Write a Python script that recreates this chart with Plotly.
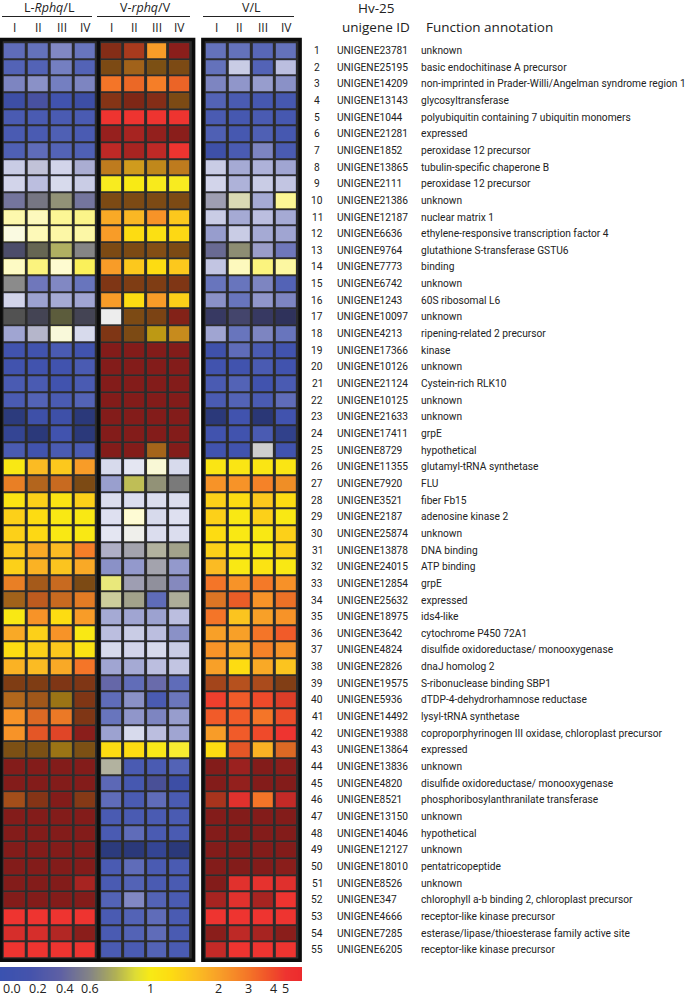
import numpy as np
import plotly.graph_objects as go

W, H = 685, 996

# ---------------- data ----------------
group_titles = ["L-<i>Rphq</i>/L", "V-<i>rphq</i>/V", "V/L"]
replicates = ["I", "II", "III", "IV"]

unigene_ids = [
    "UNIGENE23781", "UNIGENE25195", "UNIGENE14209", "UNIGENE13143", "UNIGENE1044",
    "UNIGENE21281", "UNIGENE1852", "UNIGENE13865", "UNIGENE2111", "UNIGENE21386",
    "UNIGENE12187", "UNIGENE6636", "UNIGENE9764", "UNIGENE7773", "UNIGENE6742",
    "UNIGENE1243", "UNIGENE10097", "UNIGENE4213", "UNIGENE17366", "UNIGENE10126",
    "UNIGENE21124", "UNIGENE10125", "UNIGENE21633", "UNIGENE17411", "UNIGENE8729",
    "UNIGENE11355", "UNIGENE7920", "UNIGENE3521", "UNIGENE2187", "UNIGENE25874",
    "UNIGENE13878", "UNIGENE24015", "UNIGENE12854", "UNIGENE25632", "UNIGENE18975",
    "UNIGENE3642", "UNIGENE4824", "UNIGENE2826", "UNIGENE19575", "UNIGENE5936",
    "UNIGENE14492", "UNIGENE19388", "UNIGENE13864", "UNIGENE13836", "UNIGENE4820",
    "UNIGENE8521", "UNIGENE13150", "UNIGENE14046", "UNIGENE12127", "UNIGENE18010",
    "UNIGENE8526", "UNIGENE347", "UNIGENE4666", "UNIGENE7285", "UNIGENE6205",
]

function_annotations = [
    "unknown", "basic endochitinase A precursor",
    "non-imprinted in Prader-Willi/Angelman syndrome region 1", "glycosyltransferase",
    "polyubiquitin containing 7 ubiquitin monomers", "expressed", "peroxidase 12 precursor",
    "tubulin-specific chaperone B", "peroxidase 12 precursor", "unknown", "nuclear matrix 1",
    "ethylene-responsive transcription factor 4", "glutathione S-transferase GSTU6", "binding",
    "unknown", "60S ribosomal L6", "unknown", "ripening-related 2 precursor", "kinase",
    "unknown", "Cystein-rich RLK10", "unknown", "unknown", "grpE", "hypothetical",
    "glutamyl-tRNA synthetase", "FLU", "fiber Fb15", "adenosine kinase 2", "unknown",
    "DNA binding", "ATP binding", "grpE", "expressed", "ids4-like", "cytochrome P450 72A1",
    "disulfide oxidoreductase/ monooxygenase", "dnaJ homolog 2", "S-ribonuclease binding SBP1",
    "dTDP-4-dehydrorhamnose reductase", "lysyl-tRNA synthetase",
    "coproporphyrinogen III oxidase, chloroplast precursor", "expressed", "unknown",
    "disulfide oxidoreductase/ monooxygenase", "phosphoribosylanthranilate transferase",
    "unknown", "hypothetical", "unknown", "pentatricopeptide", "unknown",
    "chlorophyll a-b binding 2, chloroplast precursor", "receptor-like kinase precursor",
    "esterase/lipase/thioesterase family active site", "receptor-like kinase precursor",
]

# expression ratio per cell (colour hue)
ratio_L = [
    [0.1, 0.1, 0.2, 0.1], [0.05, 0.05, 0.15, 0.05], [0.2, 0.2, 0.15, 0.2], [0.05, 0.2, 0.05, 0.05],
    [0.05, 0.05, 0.05, 0.05], [0.05, 0.05, 0.05, 0.05], [0.05, 0.1, 0.05, 0.05], [0.2, 0.4, 0.2, 0.3],
    [0.2, 0.2, 0.2, 0.2], [0.45, 0.55, 0.65, 0.45], [1, 1, 1, 1], [0.9, 1, 1, 1],
    [0.45, 0.65, 0.75, 0.6], [1, 1, 1, 1], [0.6, 0.2, 0.2, 0.1], [0.2, 0.2, 0.2, 0.2],
    [0.6, 0.5, 0.7, 0.5], [0.2, 0.45, 0.9, 0.2], [0.05, 0.05, 0.05, 0.05], [0.05, 0.05, 0.05, 0.05],
    [0.05, 0.05, 0.05, 0.05], [0.05, 0.05, 0.05, 0.05], [0, 0.05, 0.05, 0], [0, 0, 0.05, 0],
    [0.05, 0.05, 0.05, 0.05], [1.05, 1.7, 1.55, 2.1], [2.6, 2.5, 2.7, 2.3], [1.15, 1.45, 1.15, 1.45],
    [1.45, 1.3, 1.05, 1.05], [1.45, 1.35, 1.05, 1.05], [1.55, 1.9, 1.7, 2.8], [1.45, 1.8, 1.6, 1.9],
    [2.6, 2.6, 2.7, 2.3], [2.2, 3.0, 2.7, 2.6], [1.05, 2.3, 1.3, 2.1], [1.9, 1.45, 2.3, 1.05],
    [1.3, 1.45, 1.55, 1.15], [1.8, 1.7, 1.9, 3.0], [3.0, 3.0, 3.3, 3.3], [2.4, 2.6, 1.7, 3.3],
    [2.3, 3.0, 2.8, 3.3], [2.3, 3.6, 4.0, 5.0], [2.0, 2.0, 1.7, 2.0], [5, 5, 5, 5],
    [5, 5, 5, 5], [3.0, 3.5, 5, 3.3], [5, 5, 5, 5], [5, 5, 5, 5],
    [5, 5, 5, 5], [5, 5, 5, 5], [5, 5, 5, 5], [5, 5, 5, 5],
    [5, 5, 5, 5], [5, 5, 5, 5], [5, 5, 5, 5],
]
ratio_V = [
    [3.8, 3.8, 2.1, 5], [2.3, 2.2, 2.0, 2.3], [3.0, 3.2, 2.8, 3.3], [3.5, 4.0, 3.8, 2.3],
    [5, 5, 5, 5], [5, 5, 5, 5], [5, 5, 5, 5], [2.0, 1.7, 1.8, 2.0],
    [1.0, 1.0, 1.0, 1.0], [2.3, 2.3, 2.3, 2.3], [1.9, 1.75, 2.3, 1.55], [2.1, 1.3, 1.2, 1.35],
    [2.3, 2.3, 2.3, 2.3], [2.1, 1.55, 1.3, 1.55], [3.3, 3.0, 3.0, 3.3], [2.1, 1.3, 2.1, 1.45],
    [0.6, 2.3, 2.6, 4.5], [3.3, 2.3, 1.5, 1.85], [5, 5, 5, 5], [5, 5, 5, 5],
    [5, 5, 5, 5], [5, 5, 5, 5], [5, 5, 5, 5], [5, 5, 5, 5],
    [5, 5, 2.2, 5], [0.2, 0.2, 0.9, 0.2], [0.2, 0.8, 0.65, 0.6], [0.2, 0.2, 0.2, 0.2],
    [0.2, 1.0, 0.2, 0.2], [0.2, 0.65, 0.2, 0.2], [0.45, 0.55, 0.65, 0.65], [0.2, 0.2, 0.55, 0.2],
    [0.9, 0.5, 0.55, 0.3], [0.75, 0.65, 0.1, 0.65], [0.2, 0.2, 0.2, 0.2], [0.2, 0.2, 0.2, 0.2],
    [0.2, 0.2, 0.2, 0.2], [0.2, 0.2, 0.2, 0.2], [0.35, 0.15, 0.35, 0.1], [0.1, 0.2, 0.05, 0.15],
    [0.1, 0.2, 0.2, 0.2], [0.2, 0.2, 0.2, 0.2], [1.3, 1.3, 1.05, 1.0], [0.65, 0.05, 0.05, 0.05],
    [0.15, 0.05, 0.25, 0.05], [0.1, 0.05, 0.1, 0.05], [0.05, 0.05, 0.05, 0.05], [0.05, 0.1, 0.05, 0.05],
    [0, 0, 0, 0], [0.05, 0.1, 0.05, 0.05], [0.05, 0.05, 0.05, 0.05], [0.05, 0.2, 0.05, 0.05],
    [0.05, 0.05, 0.1, 0.05], [0.05, 0.05, 0.1, 0.05], [0.05, 0.05, 0.05, 0.05],
]
ratio_VL = [
    [0.1, 0.1, 0.05, 0.1], [0.1, 0.2, 0.05, 0.2], [0.2, 0.2, 0.2, 0.2], [0.05, 0.05, 0.05, 0.05],
    [0.05, 0.05, 0.05, 0.05], [0.05, 0.05, 0.05, 0.05], [0.05, 0.05, 0.2, 0.05], [0.2, 0.2, 0.2, 0.2],
    [0.2, 0.2, 0.2, 0.2], [0.5, 0.75, 0.2, 1.0], [0.2, 0.2, 0.2, 0.2], [0.2, 0.2, 0.2, 0.2],
    [0.45, 0.65, 0.3, 0.2], [0.2, 1, 1, 1], [0.1, 0.1, 0.2, 0.05], [0.2, 0.1, 0.2, 0.2],
    [0.35, 0.4, 0.35, 0.3], [0.2, 0.1, 0.2, 0.1], [0.05, 0.1, 0.05, 0.05], [0.05, 0.05, 0.05, 0.05],
    [0.05, 0.05, 0.05, 0.05], [0.05, 0.05, 0.05, 0.1], [0, 0.05, 0, 0.05], [0.05, 0.05, 0.05, 0],
    [0.05, 0.05, 0.6, 0.05], [1.1, 1.1, 1.1, 1.1], [2.3, 2.3, 2.7, 2.3], [1.45, 1.3, 1.55, 1.3],
    [1.45, 1.05, 1.45, 1.05], [1.3, 1.05, 1.05, 1.45], [1.45, 1.15, 1.05, 1.45], [1.7, 1.05, 1.15, 1.05],
    [3.0, 2.3, 2.9, 2.35], [2.7, 3.5, 2.3, 3.0], [3.0, 1.6, 2.0, 2.3], [2.0, 2.0, 3.0, 3.6],
    [2.3, 1.9, 2.7, 2.3], [2.0, 1.3, 1.9, 1.6], [3.3, 3.2, 3.2, 3.0], [4.5, 3.6, 4.0, 4.3],
    [3.6, 3.6, 3.0, 3.9], [2.1, 3.6, 4.0, 5.0], [1.3, 3.6, 1.8, 3.0], [5, 5, 5, 5],
    [5, 5, 5, 5], [4.0, 5, 3.0, 5], [5, 5, 5, 5], [5, 5, 5, 5],
    [5, 5, 5, 5], [5, 5, 5, 5], [5, 5, 5, 5], [5, 5, 5, 5],
    [5, 5, 5, 5], [5, 5, 5, 5], [5, 5, 5, 5],
]

# brightness modifier per cell (-1 darker ... +1 lighter)
shade_L = [
    [0.15, 0.18, 0.3, 0.2], [0.1, 0.1, 0.25, 0.1], [0.28, 0.35, 0.25, 0.28], [-0.05, -0.05, 0, -0.05],
    [0.05, 0.05, 0.05, 0.05], [0.05, 0.05, 0.08, 0.05], [0.08, 0.15, 0.1, 0.08], [0.7, 0.6, 0.75, 0.5],
    [0.75, 0.62, 0.78, 0.7], [0.05, -0.05, 0, 0.05], [0.65, 0.72, 0.55, 0.5], [0.85, 0.7, 0.62, 0.62],
    [-0.3, -0.3, 0.05, 0], [0.75, 0.45, 0.8, 0.3], [0.05, 0.2, 0.3, 0.2], [0.75, 0.45, 0.5, 0.47],
    [-0.38, -0.42, -0.42, -0.42], [0.47, 0.5, 0.82, 0.78], [0, 0, 0.05, 0], [0, 0, 0, 0.05],
    [0.05, 0.05, 0, 0.05], [0.05, 0.1, 0.05, 0.1], [-0.28, -0.03, -0.03, -0.3], [-0.15, -0.3, 0, -0.3],
    [0.05, 0, 0.05, 0.05], [0, 0, 0, 0], [-0.05, -0.27, -0.18, -0.5], [0, 0, 0, 0],
    [0, 0, 0, 0], [0, 0, 0, 0], [0, 0, 0, 0], [0, 0, 0, 0],
    [-0.05, -0.33, -0.18, -0.5], [-0.35, -0.22, -0.18, -0.08], [0, 0, 0, 0], [0, 0, 0, 0],
    [0, 0, 0, 0], [0, 0, 0, 0], [-0.48, -0.48, -0.48, -0.48], [-0.28, -0.35, -0.38, -0.48],
    [0, -0.1, -0.04, -0.48], [0, -0.05, -0.06, -0.42], [-0.5, -0.5, -0.38, -0.5], [-0.45, -0.45, -0.45, -0.45],
    [-0.45, -0.45, -0.45, -0.45], [-0.33, -0.45, -0.45, -0.45], [-0.45, -0.45, -0.45, -0.45], [-0.45, -0.45, -0.45, -0.45],
    [-0.45, -0.45, -0.45, -0.45], [-0.45, -0.45, -0.45, -0.45], [-0.45, -0.45, -0.45, -0.3], [-0.45, -0.45, -0.45, -0.45],
    [0, 0, 0, 0], [-0.1, -0.1, -0.25, -0.42], [0, 0, 0, 0],
]
shade_V = [
    [-0.45, -0.3, 0, -0.42], [-0.5, -0.35, -0.5, -0.5], [0, -0.03, 0, -0.03], [-0.45, -0.47, -0.45, -0.5],
    [0, 0, 0, 0], [-0.37, -0.3, -0.38, -0.42], [-0.2, -0.3, -0.2, 0], [-0.23, -0.17, -0.23, -0.23],
    [0.05, 0, 0.03, 0.05], [-0.5, -0.5, -0.5, -0.5], [0, 0, 0, 0], [0, 0, 0, 0],
    [-0.5, -0.5, -0.47, -0.5], [0, 0, 0, 0], [-0.48, -0.48, -0.48, -0.48], [0, 0, 0, 0],
    [0.85, -0.5, -0.5, -0.45], [-0.48, -0.5, -0.25, -0.2], [-0.45, -0.45, -0.45, -0.45], [-0.45, -0.45, -0.45, -0.45],
    [-0.45, -0.45, -0.45, -0.45], [-0.45, -0.45, -0.45, -0.45], [-0.45, -0.45, -0.45, -0.45], [-0.45, -0.45, -0.45, -0.45],
    [-0.45, -0.45, -0.33, -0.45], [0.78, 0.85, 0.8, 0.78], [0.43, 0.05, 0, -0.08], [0.8, 0.8, 0.8, 0.8],
    [0.82, 0.82, 0.78, 0.82], [0.85, 0.85, 0.8, 0.8], [0.45, 0.3, 0.3, 0.15], [0.35, 0.4, 0.3, 0.4],
    [0.35, 0.3, 0.15, 0.28], [0.4, 0.15, 0.15, 0.25], [0.5, 0.47, 0.45, 0.62], [0.62, 0.7, 0.62, 0.35],
    [0.78, 0.75, 0.78, 0.7], [0.47, 0.5, 0.62, 0.66], [0.05, 0.15, 0.08, 0.15], [0.15, 0.35, 0.05, 0.2],
    [0.2, 0.38, 0.28, 0.42], [0.45, 0.78, 0.62, 0.47], [0, 0, 0.02, 0.12], [0.3, 0.05, 0.05, 0.1],
    [0.12, 0.03, -0.1, -0.05], [0.15, 0.05, 0.15, 0.05], [0.05, 0.05, 0.05, 0.05], [0.05, 0.15, 0.05, 0.05],
    [-0.28, -0.3, -0.15, -0.3], [0.05, 0.15, 0.05, 0.05], [0.05, 0.1, 0.05, 0.05], [0.1, 0.3, 0.1, 0.05],
    [0.05, 0.1, 0.15, 0.05], [0.05, 0.1, 0.15, 0.05], [0.05, 0.05, 0.1, 0.05],
]
shade_VL = [
    [0.18, 0.18, 0.12, 0.18], [0.18, 0.7, 0.1, 0.62], [0.28, 0.38, 0.42, 0.35], [0.1, 0.05, 0.03, 0.03],
    [0.05, 0.03, 0.05, 0.03], [0.08, 0.03, 0.08, 0.03], [-0.03, 0.05, 0.28, 0.05], [0.7, 0.5, 0.55, 0.47],
    [0.75, 0.55, 0.7, 0.66], [0.3, 0.55, 0.5, 0.55], [0.7, 0.5, 0.62, 0.5], [0.42, 0.7, 0.5, 0.47],
    [-0.03, -0.03, 0.4, 0.2], [0.66, 0.72, 0.45, 0.6], [0.2, 0.2, 0.28, 0.1], [0.35, 0.2, 0.38, 0.28],
    [-0.4, -0.32, -0.4, -0.45], [0.47, 0.2, 0.28, 0.2], [-0.02, 0.15, 0.05, 0], [0, 0, 0.05, 0],
    [0.05, 0.1, 0, 0.05], [0.05, 0.1, 0.05, 0.15], [-0.3, 0, -0.32, 0], [0, 0, 0.05, -0.2],
    [0, 0, 0.6, 0], [0, 0, 0, 0], [0, 0, 0, -0.03], [0, 0, 0, 0],
    [0, 0, 0, 0], [0, 0, 0, 0], [0, 0, 0, 0], [0, 0, 0, 0],
    [0, 0, 0, 0], [-0.1, -0.03, 0, -0.03], [0, 0, 0, 0], [0, 0, 0, 0],
    [0, 0, 0, 0], [0, 0, 0, 0], [-0.33, -0.25, -0.3, -0.47], [0, 0, 0, -0.08],
    [0, 0, 0, -0.02], [0, 0, 0, 0], [0, -0.05, 0, -0.1], [-0.45, -0.35, -0.45, -0.42],
    [-0.45, -0.38, -0.45, -0.45], [-0.3, -0.05, 0, -0.18], [-0.45, -0.45, -0.45, -0.45], [-0.45, -0.45, -0.45, -0.45],
    [-0.45, -0.45, -0.45, -0.45], [-0.45, -0.45, -0.45, -0.42], [-0.45, -0.05, -0.03, -0.06], [-0.3, -0.05, -0.3, 0],
    [0, 0, 0, 0], [-0.42, -0.2, -0.3, -0.42], [-0.18, 0, 0, 0],
]

cbar_tick_values = [0.0, 0.2, 0.4, 0.6, 1, 2, 3, 4, 5]
cbar_tick_labels = ["0.0", "0.2", "0.4", "0.6", "1", "2", "3", "4", "5"]

# ---------------- colour scale ----------------
# non-linear legend scale: ratio -> position along the colour bar
scale_pos = [12, 38, 65, 90, 150, 218, 248, 273, 285]
SCALE_MAX = 302.0


def to_scale(r):
    return np.interp(np.asarray(r, dtype=float), cbar_tick_values, scale_pos)


stops = [(0, "#3a52b0"), (30, "#4553ac"), (60, "#5e60a4"), (90, "#858585"), (115, "#b0b055"),
         (135, "#dedc35"), (150, "#f8ea15"), (170, "#fddc12"), (195, "#fbbf22"), (218, "#f8a028"),
         (248, "#f47528"), (273, "#ef4a2a"), (285, "#ee3430"), (302, "#ec2a2d")]
ratio_scale = [[p / SCALE_MAX, c] for p, c in stops]
shade_scale = [[0.0, "rgba(0,0,0,1)"], [0.4999, "rgba(0,0,0,0)"],
               [0.5001, "rgba(255,255,255,0)"], [1.0, "rgba(255,255,255,1)"]]


def X(px):
    return px / W


def Y(py):
    return 1 - py / H


n_rows = len(unigene_ids)
row_top, row_bot = 42.2, 958.0
pitch = (row_bot - row_top) / n_rows

panels = [  # (ratio, shade, xaxis, pixel extent)
    (ratio_L, shade_L, "x", (2.7, 96.9)),
    (ratio_V, shade_V, "x2", (100.1, 191.4)),
    (ratio_VL, shade_VL, "x3", (204.8, 298.2)),
]

fig = go.Figure()
cols = [0, 1, 2, 3]
rows = list(range(n_rows))
for ratio, shade, xa, _ in panels:
    fig.add_trace(go.Heatmap(z=to_scale(ratio), x=cols, y=rows, xaxis=xa, yaxis="y",
                             colorscale=ratio_scale, zmin=0, zmax=SCALE_MAX, showscale=False,
                             xgap=3, ygap=2, hoverinfo="skip"))
    fig.add_trace(go.Heatmap(z=np.asarray(shade, dtype=float), x=cols, y=rows, xaxis=xa, yaxis="y",
                             colorscale=shade_scale, zmin=-1, zmax=1, showscale=False,
                             xgap=3, ygap=2, hoverinfo="skip"))

# legend colour bar
bar_x = np.arange(0, SCALE_MAX + 1, 1.0)
fig.add_trace(go.Heatmap(z=[bar_x], x=bar_x, y=[0], xaxis="x4", yaxis="y4",
                         colorscale=ratio_scale, zmin=0, zmax=SCALE_MAX, showscale=False,
                         hoverinfo="skip"))

hidden = dict(visible=False, showgrid=False, zeroline=False, fixedrange=True)
layout = dict(
    width=W, height=H, margin=dict(l=0, r=0, t=0, b=0), autosize=False,
    paper_bgcolor="white", plot_bgcolor="#2c2c2c", showlegend=False,
    xaxis=dict(domain=[X(2.7), X(96.9)], range=[-0.5, 3.5], **hidden),
    xaxis2=dict(domain=[X(100.1), X(191.4)], range=[-0.5, 3.5], **hidden),
    xaxis3=dict(domain=[X(204.8), X(298.2)], range=[-0.5, 3.5], **hidden),
    yaxis=dict(domain=[Y(row_bot), Y(row_top)], range=[n_rows - 0.5, -0.5], **hidden),
    xaxis4=dict(domain=[X(0), X(SCALE_MAX)], range=[0, SCALE_MAX], anchor="y4", **hidden),
    yaxis4=dict(domain=[Y(981), Y(967)], range=[-0.5, 0.5], anchor="x4", **hidden),
)
fig.update_layout(**layout)

shapes = []
# dark backgrounds and frames of the two blocks
for x0, x1 in [(0.9, 193.6), (202.9, 300.1)]:
    shapes.append(dict(type="rect", xref="paper", yref="paper", x0=X(x0), x1=X(x1), y0=Y(960.2), y1=Y(39.4),
                       fillcolor="#2c2c2c", line=dict(width=0), layer="below"))
    shapes.append(dict(type="rect", xref="paper", yref="paper", x0=X(x0), x1=X(x1), y0=Y(960.2), y1=Y(39.4),
                       line=dict(color="#0c0c0c", width=3.5), layer="above"))
shapes.append(dict(type="line", xref="paper", yref="paper", x0=X(98.5), x1=X(98.5), y0=Y(960.2), y1=Y(39.4),
                   line=dict(color="#0c0c0c", width=3.5), layer="above"))
# header rules
for x0, x1 in [(2, 92), (97, 190), (203, 294)]:
    shapes.append(dict(type="line", xref="paper", yref="paper", x0=X(x0), x1=X(x1), y0=Y(16.5), y1=Y(16.5),
                       line=dict(color="#222", width=1.2)))
fig.update_layout(shapes=shapes)

HEAD_FONT = "Open Sans, Noto Sans, sans-serif"
ROW_FONT = "Roboto, Liberation Sans, sans-serif"
ROW_SIZE = 10.2
ann = []
for (ratio, shade, xa, ext), title in zip(panels, group_titles):
    ann.append(dict(x=(X(ext[0]) + X(ext[1])) / 2, y=Y(7.5), xref="paper", yref="paper", text=title,
                    showarrow=False, xanchor="center", yanchor="middle",
                    font=dict(family=HEAD_FONT, size=12.5, color="#222")))
    for k, rep in enumerate(replicates):
        ann.append(dict(x=k, y=Y(27), xref=xa, yref="paper", text=rep, showarrow=False,
                        xanchor="center", yanchor="middle", font=dict(family=HEAD_FONT, size=12, color="#222")))

ann.append(dict(x=X(376), y=Y(8), xref="paper", yref="paper", text="Hv-25", showarrow=False,
                xanchor="center", yanchor="middle", font=dict(family=HEAD_FONT, size=13.5, color="#222")))
ann.append(dict(x=X(376), y=Y(27), xref="paper", yref="paper", text="unigene ID", showarrow=False,
                xanchor="center", yanchor="middle", font=dict(family=HEAD_FONT, size=13.5, color="#222")))
ann.append(dict(x=X(424), y=Y(27), xref="paper", yref="paper", text="Function annotation", showarrow=False,
                xanchor="left", yanchor="middle", font=dict(family=HEAD_FONT, size=13.5, color="#222")))

for i in range(n_rows):
    yc = Y(row_top + (i + 0.5) * pitch)
    ann.append(dict(x=X(317), y=yc, xref="paper", yref="paper", text=str(i + 1), showarrow=False,
                    xanchor="center", yanchor="middle", font=dict(family=ROW_FONT, size=ROW_SIZE, color="#222")))
    ann.append(dict(x=X(335), y=yc, xref="paper", yref="paper", text=unigene_ids[i], showarrow=False,
                    xanchor="left", yanchor="middle", font=dict(family=ROW_FONT, size=ROW_SIZE, color="#222")))
    ann.append(dict(x=X(419), y=yc, xref="paper", yref="paper", text=function_annotations[i], showarrow=False,
                    xanchor="left", yanchor="middle", font=dict(family=ROW_FONT, size=ROW_SIZE, color="#222")))

for v, lab in zip(to_scale(cbar_tick_values), cbar_tick_labels):
    ann.append(dict(x=float(v), y=Y(988.5), xref="x4", yref="paper", text=lab, showarrow=False,
                    xanchor="center", yanchor="middle", font=dict(family=HEAD_FONT, size=12.5, color="#222")))

fig.update_layout(annotations=ann)
fig.write_html("out.html", config={"displayModeBar": False, "staticPlot": True},
               post_script="document.body.style.margin='0';document.body.style.padding='0';")
